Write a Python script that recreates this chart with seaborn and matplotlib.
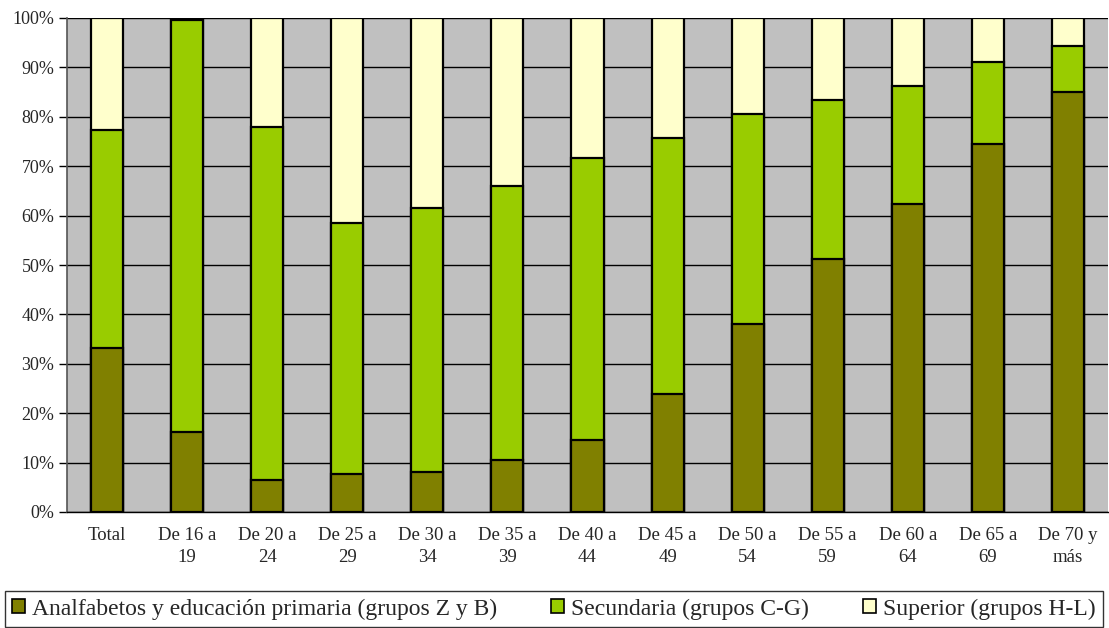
import numpy as np
import pandas as pd
import matplotlib
matplotlib.use("Agg")
import matplotlib.pyplot as plt
from matplotlib.patches import Patch
from matplotlib.ticker import FixedLocator, PercentFormatter
import seaborn as sns

# Share of population by education level within each age group (%)
grupos = ["Total", "De 16 a\n19", "De 20 a\n24", "De 25 a\n29", "De 30 a\n34",
          "De 35 a\n39", "De 40 a\n44", "De 45 a\n49", "De 50 a\n54", "De 55 a\n59",
          "De 60 a\n64", "De 65 a\n69", "De 70 y\nmás"]
primaria = [33.2, 16.2, 6.5, 7.7, 8.1, 10.5, 14.6, 23.9, 38.0, 51.3, 62.3, 74.5, 85.0]
secundaria = [44.1, 83.3, 71.5, 50.9, 53.4, 55.5, 57.0, 51.8, 42.5, 32.0, 23.9, 16.6, 9.3]
superior = [22.7, 0.5, 22.0, 41.4, 38.5, 34.0, 28.4, 24.3, 19.5, 16.7, 13.8, 8.9, 5.7]

series = ["Analfabetos y educación primaria (grupos Z y B)",
          "Secundaria (grupos C-G)",
          "Superior (grupos H-L)"]
colores = ["#808000", "#99CC00", "#FFFFCC"]

df = pd.DataFrame({"grupo": grupos, "primaria": primaria,
                   "secundaria": secundaria, "superior": superior})
df["c1"] = df["primaria"]
df["c2"] = df["primaria"] + df["secundaria"]
df["c3"] = df["c2"] + df["superior"]

sns.set_style("white")
plt.rcParams["font.family"] = ["Liberation Serif", "DejaVu Serif"]

fig = plt.figure(figsize=(11.09, 6.28), dpi=100)
ax = fig.add_axes([67 / 1109, 1 - 512 / 628, (1108 - 67) / 1109, (512 - 18) / 628])
ax.set_facecolor("#C0C0C0")

# stacked bars: draw cumulative heights from the top layer down
for col, color in zip(["c3", "c2", "c1"], colores[::-1]):
    sns.barplot(data=df, x="grupo", y=col, color=color, width=0.4,
                edgecolor="black", linewidth=1.6, saturation=1, ax=ax, zorder=3)

ax.set_ylim(0, 100)
ax.set_xlim(-0.5, len(grupos) - 0.5)
ax.set_yticks(np.arange(0, 101, 10))
ax.yaxis.set_major_formatter(PercentFormatter(decimals=0))
ax.grid(axis="y", color="black", linewidth=1.0, zorder=1)
ax.set_axisbelow(True)
ax.set_xlabel("")
ax.set_ylabel("")

for s in ["top", "right"]:
    ax.spines[s].set_visible(False)
ax.spines["left"].set_color("#555555")
ax.spines["left"].set_linewidth(1.2)
ax.spines["bottom"].set_color("black")
ax.spines["bottom"].set_linewidth(1.0)

ax.xaxis.set_minor_locator(FixedLocator(np.arange(-0.5, len(grupos), 1.0)))
ax.tick_params(axis="x", which="major", length=0, pad=11, labelsize=13.5)
ax.tick_params(axis="x", which="minor", length=6, width=1.0, color="black", direction="out")
ax.tick_params(axis="y", length=6, width=1.0, color="black", direction="out",
               labelsize=13, pad=3, left=True)
for lab in ax.get_xticklabels():
    lab.set_linespacing(1.35)

handles = [Patch(facecolor=c, edgecolor="black", linewidth=1.2) for c in colores]
leg = fig.legend(handles, series, loc="center",
                 bbox_to_anchor=(5 / 1109, 1 - 627 / 628, 1098 / 1109, 36 / 628),
                 mode="expand", ncol=3, frameon=True, fancybox=False, fontsize=17,
                 handlelength=0.55, handleheight=0.55, handletextpad=0.3,
                 columnspacing=0.8, borderpad=0.3, borderaxespad=0)
leg.get_frame().set_edgecolor("black")
leg.get_frame().set_linewidth(1.0)

fig.savefig("out.png", dpi=100, facecolor="white")
